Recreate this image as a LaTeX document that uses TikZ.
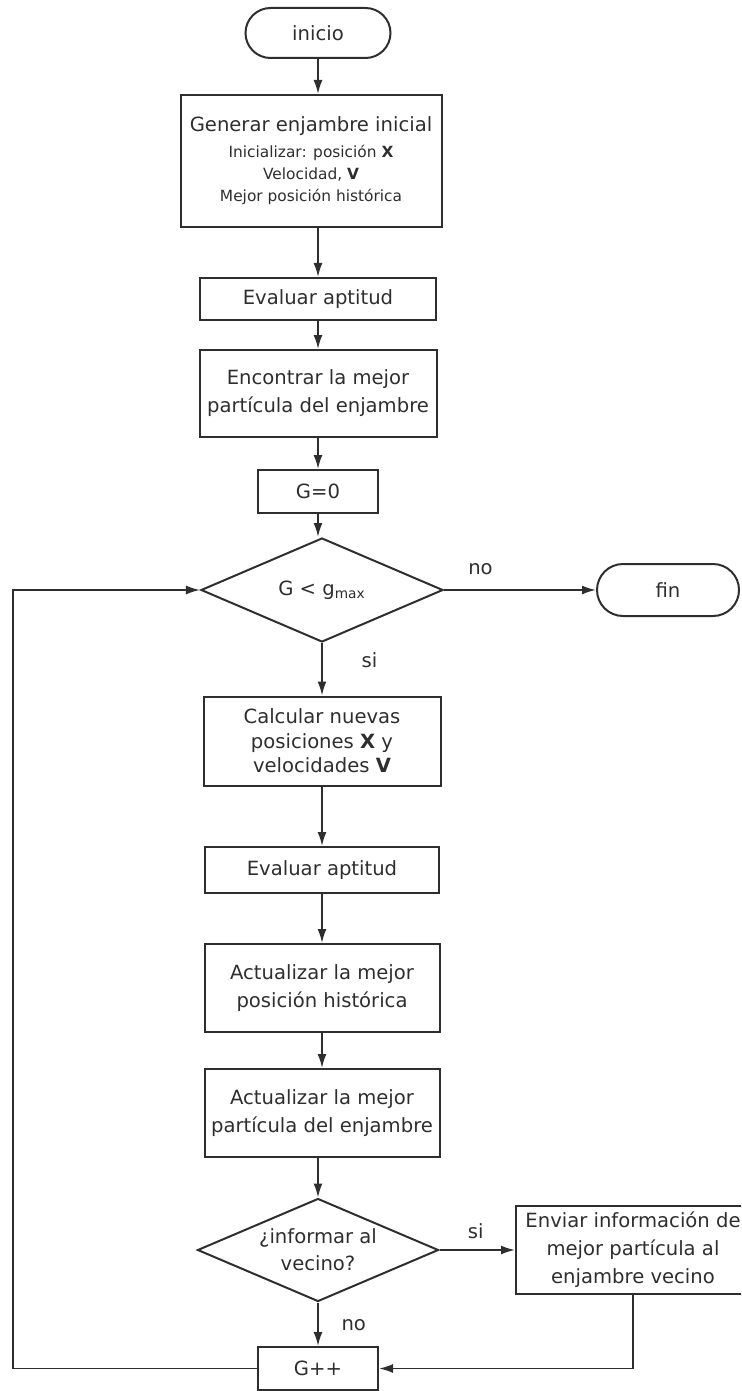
\documentclass[tikz,border=0pt]{standalone}
\usepackage{fontspec}
\setmainfont{DejaVu Sans}
\usetikzlibrary{shapes.geometric,shapes.misc,arrows.meta}
\definecolor{ink}{HTML}{2E2E2E}
\newcommand{\smallfont}{\fontsize{7.7}{10.5}\selectfont}
\tikzset{
  proc/.style={draw=ink, line width=1pt, align=center, inner sep=1pt},
  term/.style={draw=ink, line width=1pt, rounded rectangle, inner sep=1pt},
  decision/.style={draw=ink, line width=1pt, diamond, aspect=2, align=center, inner sep=0pt},
  arr/.style={draw=ink, line width=0.9pt, -{Latex[length=7pt,width=4.5pt]}},
}
\begin{document}
\begin{tikzpicture}[x=0.5pt, y=-0.5pt, font=\fontsize{9.8}{14}\selectfont, text=ink]
\path[use as bounding box, clip] (0,0) rectangle (741,1391);
%
\node[term, minimum width=74.5pt, minimum height=25pt] (inicio) at (318,33) {inicio};
\node[proc, minimum width=130.5pt, minimum height=66pt] (gen) at (311,161)
  {Generar enjambre inicial\\[-1pt]\smallfont Inicializar: posición \textbf{X}\\[-3pt]
   \smallfont Velocidad, \textbf{V}\\[-3pt] \smallfont Mejor posición histórica};
\node[proc, minimum width=118pt, minimum height=21pt] (eval1) at (318,299) {Evaluar aptitud};
\node[proc, minimum width=118.5pt, minimum height=43.5pt] (best1) at (318,393.5)
  {Encontrar la mejor\\ partícula del enjambre};
\node[proc, minimum width=60pt, minimum height=21.5pt] (g0) at (318,491.5) {G=0};
\node[decision, minimum width=121pt, minimum height=52pt] (cond) at (322,590)
  {G < g\textsubscript{max}};
\node[term, minimum width=73pt, minimum height=26pt] (fin) at (668,590) {fin};
%
\node[proc, minimum width=118.5pt, minimum height=44.5pt, font=\fontsize{9.8}{12.2}\selectfont]
  (calc) at (322,741) {Calcular nuevas\\ posiciones \textbf{X} y\\ velocidades \textbf{V}};
\node[proc, minimum width=117pt, minimum height=23pt] (eval2) at (322,870) {Evaluar aptitud};
\node[proc, minimum width=117.5pt, minimum height=44pt] (hist) at (322,988)
  {Actualizar la mejor\\ posición histórica};
\node[proc, minimum width=117.5pt, minimum height=44pt] (part) at (322,1113)
  {Actualizar la mejor\\ partícula del enjambre};
\node[decision, minimum width=120.5pt, minimum height=51.5pt, font=\fontsize{9.8}{13.5}\selectfont]
  (inform) at (318,1250) {¿informar al\\ vecino?};
\node[proc, minimum width=117pt, minimum height=44pt] (send) at (633,1250)
  {Enviar información de\\ mejor partícula al\\ enjambre vecino};
\node[proc, minimum width=60pt, minimum height=21.5pt] (gpp) at (318,1368.5) {G++};
\coordinate (back) at (13,1368.5);
%
\draw[arr] (inicio) -- (inicio |- gen.north);
\draw[arr] (gen.south -| eval1) -- (eval1);
\draw[arr] (eval1) -- (best1);
\draw[arr] (best1) -- (g0);
\draw[arr] (g0) -- (g0 |- cond.north);
\draw[arr] (cond) -- node[pos=0.24, above=4pt]{no} (fin);
\draw[arr] (cond) -- node[pos=0.33, right=16pt]{si} (cond |- calc.north);
\draw[arr] (calc) -- (eval2);
\draw[arr] (eval2) -- (hist);
\draw[arr] (hist) -- (part);
\draw[arr] (part.south -| inform) -- (inform);
\draw[arr] (inform) -- node[pos=0.48, above=2pt]{si} (send);
\draw[arr] (inform) -- node[pos=0.52, right=8pt]{no} (gpp);
\draw[arr] (send) |- (gpp);
\draw[arr] (gpp) -- (back) |- (cond);
\end{tikzpicture}
\end{document}
